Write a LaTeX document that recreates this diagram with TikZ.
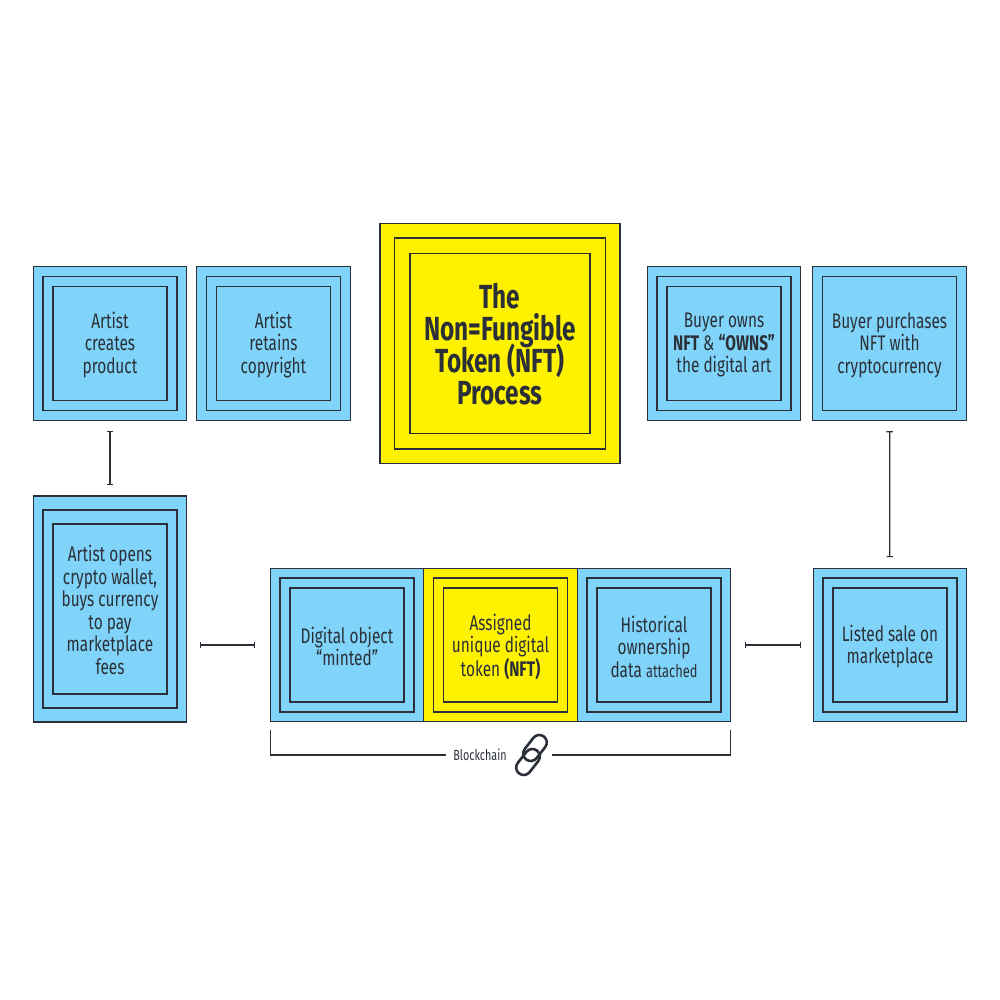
\documentclass[tikz,border=0pt]{standalone}
\usepackage{fontspec}
\setmainfont[FakeStretch=0.73]{Fira Sans}
\usepackage{xcolor}
\usepackage{tikz}
\usetikzlibrary{arrows.meta, positioning}
\definecolor{skybox}{HTML}{80D3F9}
\definecolor{sunbox}{HTML}{FFF200}
\definecolor{inkline}{HTML}{2B3038}

\begin{document}
\begin{tikzpicture}[
  node distance=2mm and 2mm,
  every node/.style={inner sep=0pt, outer sep=0pt, text=inkline},
  ring/.style={draw=inkline, line width=0.75pt},
  sky/.style={ring, fill=skybox},
  sun/.style={ring, fill=sunbox},
  sq154/.style={minimum width=3.07cm, minimum height=3.07cm},
  sq134/.style={minimum width=2.68cm, minimum height=2.68cm},
  sq114/.style={minimum width=2.28cm, minimum height=2.28cm},
  tag/.style={align=center, font=\fontsize{12}{12.8}\selectfont},
  lk/.style={{Bar[width=1.3mm,length=0.4pt]}-{Bar[width=1.3mm,length=0.4pt]}, draw=inkline, line width=0.7pt},
  chain/.style={draw=inkline, line width=0.7pt},
  link/.style={draw=inkline, line width=1.5pt, rounded corners=1.5mm, minimum width=5.8mm, minimum height=3mm, rotate=52}
]
\useasboundingbox (0,0) rectangle (20,20);

% top row
\node[sky, sq154] (create) at (2.2,13.13) {};
\node[sky, sq154, right=2mm of create] (retain) {};
\node[sun, minimum width=4.8cm, minimum height=4.8cm] (title) at (10,13.13) {};
\node[sky, sq154] (owns) at (14.48,13.13) {};
\node[sky, sq154, right=2.4mm of owns] (purchase) {};

% bottom row
\node[sky, minimum width=3.07cm, minimum height=4.52cm] (wallet) at (2.2,7.82) {};
\node[sky, sq154] (minted) at (6.94,7.1) {};
\node[sun, sq154, right=0mm of minted] (token) {};
\node[sky, sq154, right=0mm of token] (history) {};
\node[sky, sq154] (listed) at (17.8,7.1) {};

% rings and labels
\foreach \b/\t in {create/{Artist\\creates\\product},
                   retain/{Artist\\retains\\copyright},
                   owns/{Buyer owns\\\textbf{NFT} \& \textbf{“OWNS”}\\the digital art},
                   minted/{Digital object\\“minted”},
                   history/{Historical\\ownership\\data {\fontsize{10}{12}\selectfont attached}},
                   listed/{Listed sale on\\marketplace}} {
  \node[sky, sq134] (\b mid) at (\b) {};
  \node[sky, sq114] (\b in) at (\b) {};
  \node[tag] (\b text) at ([yshift=-0.3mm]\b) {\t};
}
\node[sun, sq134] (tokenmid) at (token) {};
\node[sun, sq114] (tokenin) at (token) {};
\node[tag] (tokentext) at ([yshift=-0.4mm]token) {Assigned\\unique digital\\token \textbf{(NFT)}};
\node[sky, sq134] (purchasemid) at (purchase) {};
\node[tag] (purchasetext) at ([yshift=-0.3mm]purchase) {Buyer purchases\\NFT with\\cryptocurrency};
\node[sky, minimum width=2.68cm, minimum height=3.96cm] (walletmid) at (wallet) {};
\node[sky, minimum width=2.28cm, minimum height=3.4cm] (walletin) at (wallet) {};
\node[tag] (wallettext) at ([yshift=-0.2mm]wallet) {Artist opens\\crypto wallet,\\buys currency\\to pay\\marketplace\\fees};
\node[sun, minimum width=4.22cm, minimum height=4.22cm] (titlemid) at (title) {};
\node[sun, minimum width=3.6cm, minimum height=3.6cm] (titlein) at (title) {};
\node[align=center, font={\fontsize{19}{18.2}\selectfont\bfseries\lineskiplimit -10pt\relax}] (titletext) at ([yshift=-0.2mm]title) {The\\Non=Fungible\\Token (NFT)\\Process};

% links between steps
\draw[lk, shorten <=2.2mm, shorten >=2.2mm] (create) -- (wallet);
\draw[lk, shorten <=3mm, shorten >=2.6mm] (minted.west) -- (wallet.east |- minted.west);
\draw[lk, shorten <=2.8mm, shorten >=2.4mm] (history.east) -- (listed.west);
\draw[lk, shorten <=2.2mm, shorten >=2.2mm] (listed) -- (purchase);

% blockchain bracket
\coordinate[below=1.6mm of minted.south west] (chainleft);
\coordinate[below=1.6mm of history.south east] (chainright);
\node[font=\fontsize{8.4}{10}\selectfont] (chainlabel) at (9.6,4.9) {Blockchain};
\node[link] (linkup) at (10.70,5.04) {};
\node[link] (linkdown) at (10.56,4.76) {};
\coordinate (chainend) at (11.04,4.9);
\draw[chain] (chainleft) |- ([xshift=-1.5mm]chainlabel.west);
\draw[chain] (chainright) |- (chainend);
\end{tikzpicture}
\end{document}
